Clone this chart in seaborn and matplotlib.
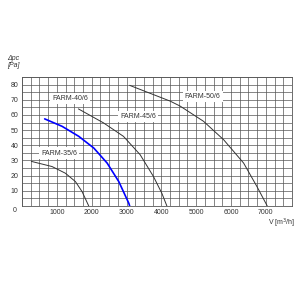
import matplotlib
matplotlib.use("Agg")
import matplotlib.pyplot as plt
from matplotlib.ticker import MultipleLocator, FixedLocator
import seaborn as sns
import pandas as pd

# ---- data ----
x_35 = [268, 862, 1245, 1533, 1724, 1916]
y_35 = [29.4, 26.0, 21.6, 16.1, 9.5, 0.0]

x_40 = [651, 1150, 1629, 2060, 2443, 2778, 3066, 3090]
y_40 = [57.4, 52.5, 45.9, 38.2, 28.3, 16.1, 1.8, 0.0]

x_45 = [1618, 2337, 2912, 3391, 3774, 4014, 4159]
y_45 = [64.0, 54.8, 45.9, 33.8, 19.4, 8.4, 0.0]

x_50 = [3090, 4254, 4541, 5211, 5786, 6361, 6744, 7040]
y_50 = [79.5, 69.1, 65.8, 55.8, 43.7, 28.3, 12.8, 0.0]

curve_names = ["FARM-35/6", "FARM-40/6", "FARM-45/6", "FARM-50/6"]
label_x = [1063, 1380, 3334, 5187]
label_y = [34.9, 70.9, 59.1, 72.0]

x_ticks = [1000, 2000, 3000, 4000, 5000, 6000, 7000]
y_ticks = [10, 20, 30, 40, 50, 60, 70, 80]

sns.set_theme(style="white")
plt.rcParams["font.family"] = ["Liberation Sans", "DejaVu Sans"]

fig = plt.figure(figsize=(3, 3), dpi=100)
ax = fig.add_axes([22 / 300, 94 / 300, 270 / 300, 129 / 300])

grid_c = "#555555"
ax.set_xlim(0, 7750)
ax.set_ylim(0, 85)
ax.xaxis.set_major_locator(FixedLocator(x_ticks))
ax.xaxis.set_minor_locator(MultipleLocator(250))
ax.yaxis.set_major_locator(FixedLocator(y_ticks))
ax.yaxis.set_minor_locator(MultipleLocator(5))
ax.grid(True, which="both", color=grid_c, linewidth=0.5)
ax.set_axisbelow(True)
ax.tick_params(which="both", length=0)
ax.tick_params(axis="x", pad=2.5, labelsize=5, labelcolor="#333333")
ax.tick_params(axis="y", pad=2.5, labelsize=5, labelcolor="#333333")
for s in ax.spines.values():
    s.set_color(grid_c)
    s.set_linewidth(0.6)

xs = [x_35, x_40, x_45, x_50]
ys = [y_35, y_40, y_45, y_50]
colors = ["#333333", "#0000ff", "#333333", "#333333"]
widths = [0.7, 1.2, 0.7, 0.7]
for xv, yv, c, w in zip(xs, ys, colors, widths):
    sns.lineplot(x=xv, y=yv, ax=ax, color=c, linewidth=w, sort=False, zorder=3)

for name, lx, ly in zip(curve_names, label_x, label_y):
    ax.text(lx, ly, name, ha="center", va="center", fontsize=5, color="#333333",
            zorder=4,
            bbox=dict(facecolor="white", edgecolor="none", pad=1.5))

ax.annotate("0", xy=(0, 0), xycoords=("axes fraction", "data"),
            xytext=(-4, -3.5), textcoords="offset points",
            ha="right", va="center", fontsize=5, color="#333333")

ax.set_xlabel("")
ax.set_ylabel("")

fig.text(7 / 300, 1 - 58 / 300, "Δpc", ha="left", va="center", fontsize=5,
         style="italic", color="#333333")
fig.text(7 / 300, 1 - 65.5 / 300, "[Pa]", ha="left", va="center", fontsize=5,
         style="italic", color="#333333")
fig.text(295 / 300, 1 - 223 / 300, "V [m$^3$/h]", ha="right", va="center",
         fontsize=5, color="#333333")

fig.savefig("out.png", dpi=100, facecolor="white")
